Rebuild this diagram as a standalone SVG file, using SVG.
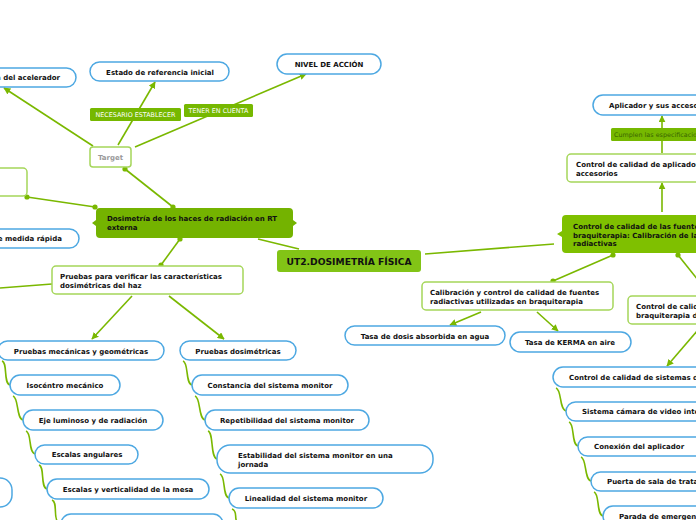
<svg xmlns="http://www.w3.org/2000/svg" width="696" height="520" viewBox="0 0 696 520">
<style>
.ln{stroke:#7ab800;stroke-width:1.6;fill:none}
.bb{fill:#fff;stroke:#4da8e2;stroke-width:1.5}
.gb{fill:#fff;stroke:#a5d65a;stroke-width:1.5}
.t{font-family:"DejaVu Sans",Verdana,sans-serif;font-weight:bold;font-size:7px;fill:#111}
.c{text-anchor:middle}
.lbl{font-family:"DejaVu Sans",Verdana,sans-serif;font-size:6.4px;fill:#fff}
.lr{fill:#76b800}
.dot{fill:#7ab800}
</style>
<defs>
<marker id="ar" viewBox="0 0 10 10" refX="9" refY="5" markerWidth="7" markerHeight="7" markerUnits="userSpaceOnUse" orient="auto">
<path d="M0,0 L10,5 L0,10 Z" fill="#7ab800"/>
</marker>
</defs>
<rect width="696" height="520" fill="#fff"/>
<g id="connectors">
<line class="ln" x1="93" y1="146" x2="4" y2="88" marker-end="url(#ar)"/>
<line class="ln" x1="118" y1="145" x2="155" y2="82" marker-end="url(#ar)"/>
<line class="ln" x1="135" y1="147" x2="306" y2="74" marker-end="url(#ar)"/>
<line class="ln" x1="125" y1="169" x2="173" y2="207"/>
<line class="ln" x1="27" y1="197" x2="95" y2="207"/>
<line class="ln" x1="180" y1="239" x2="161" y2="265"/>
<line class="ln" x1="52" y1="284" x2="0" y2="288"/>
<line class="ln" x1="258" y1="239" x2="299" y2="249"/>
<line class="ln" x1="425" y1="254" x2="554" y2="244"/>
<line class="ln" x1="132" y1="296" x2="92" y2="339" marker-end="url(#ar)"/>
<line class="ln" x1="169" y1="296" x2="224" y2="339" marker-end="url(#ar)"/>
<line class="ln" x1="662" y1="212" x2="662" y2="183" marker-end="url(#ar)"/>
<line class="ln" x1="662" y1="153" x2="662" y2="116" marker-end="url(#ar)"/>
<line class="ln" x1="613" y1="255" x2="553" y2="281"/>
<line class="ln" x1="678" y1="255" x2="698" y2="280"/>
<line class="ln" x1="481" y1="312" x2="450" y2="325" marker-end="url(#ar)"/>
<line class="ln" x1="537" y1="312" x2="558" y2="331" marker-end="url(#ar)"/>
<line class="ln" x1="698" y1="330" x2="667" y2="366" marker-end="url(#ar)"/>
<path class="ln" d="M2,361 C8,363 3,383 10,385"/>
<path class="ln" d="M13,396 C19,398 16,418 23,420"/>
<path class="ln" d="M26,431 C32,433 28,452 35,454"/>
<path class="ln" d="M39,465 C45,467 40,487 47,489"/>
<path class="ln" d="M52,500 C58,502 53,518 58,522"/>
<path class="ln" d="M183,361 C189,363 185,383 192,385"/>
<path class="ln" d="M195,396 C201,398 198,418 205,420"/>
<path class="ln" d="M208,431 C214,433 210,457 217,459"/>
<path class="ln" d="M220,474 C226,476 222,496 229,498"/>
<path class="ln" d="M232,509 C238,511 234,518 237,522"/>
<path class="ln" d="M556,388 C562,390 559,409 566,411"/>
<path class="ln" d="M569,422 C575,424 571,444 578,446"/>
<path class="ln" d="M581,457 C587,459 584,479 591,481"/>
<path class="ln" d="M594,492 C600,494 596,514 603,516"/>
<circle class="dot" cx="125" cy="169" r="2.6"/>
<circle class="dot" cx="173" cy="207" r="2.6"/>
<circle class="dot" cx="27" cy="197" r="2.6"/>
<circle class="dot" cx="95" cy="207" r="2.6"/>
<circle class="dot" cx="180" cy="239" r="2.6"/>
<circle class="dot" cx="161" cy="265" r="2.6"/>
<circle class="dot" cx="613" cy="255" r="2.6"/>
<circle class="dot" cx="553" cy="281" r="2.6"/>
<circle class="dot" cx="678" cy="255" r="2.6"/>
</g>
<g id="lbl-necesario"><rect class="lr" x="90" y="108" width="91" height="13" rx="1.5"/><text class="lbl c" x="135.5" y="117">NECESARIO ESTABLECER</text></g>
<g id="lbl-tener"><rect class="lr" x="184" y="104" width="69" height="13" rx="1.5"/><text class="lbl c" x="218.5" y="113">TENER EN CUENTA</text></g>
<g id="lbl-cumplen"><rect class="lr" x="611" y="128" width="110" height="13" rx="1.5"/><text class="lbl" x="614" y="137" style="fill:#3a6600">Cumplen las especificaciones</text></g>
<g id="n-acelerador"><rect class="bb" x="-60" y="68" width="136" height="19" rx="9.5"/><text class="t" x="60" y="80" text-anchor="end">a del acelerador</text></g>
<g id="n-estado"><rect class="bb" x="90" y="62" width="139" height="19" rx="9.5"/><text class="t c" x="160" y="74.5">Estado de referencia inicial</text></g>
<g id="n-nivel"><rect class="bb" x="277" y="54" width="104" height="20" rx="10"/><text class="t c" x="329" y="66.5">NIVEL DE ACCIÓN</text></g>
<g id="n-target"><rect class="gb" x="90" y="147" width="41" height="20" rx="3"/><text class="t c" x="110.5" y="160" style="fill:#9a9a9a">Target</text></g>
<g id="n-topleft"><rect class="gb" x="-20" y="168" width="47" height="28" rx="4"/></g>
<g id="n-medida"><rect class="bb" x="-60" y="229" width="139" height="19" rx="9.5"/><text class="t" x="62" y="241" text-anchor="end">e medida rápida</text></g>
<g id="n-dosimetria"><path d="M100,208 H289 Q293,208 293,212 V220 L297,223 L293,226 V234 Q293,238 289,238 H100 Q96,238 96,234 V226 L92,223 L96,220 V212 Q96,208 100,208 Z" fill="#74b300"/><text class="t" x="107" y="220.5">Dosimetría de los haces de radiación en RT</text><text class="t" x="107" y="230">externa</text></g>
<g id="n-ut2"><rect x="277" y="250" width="144" height="22" rx="3" fill="#82c416"/><text class="t c" x="349" y="264.8" style="font-size:9.2px">UT2.DOSIMETRÍA FÍSICA</text></g>
<g id="n-pruebas"><rect class="gb" x="52" y="266" width="191" height="28" rx="4"/><text class="t" x="60" y="278.5">Pruebas para verificar las características</text><text class="t" x="60" y="288">dosimétricas del haz</text></g>
<g id="n-fuentes"><path d="M566,215 H720 V253 H566 Q562,253 562,249 V237 L557,234 L562,231 V219 Q562,215 566,215 Z" fill="#7fc000"/><text class="t" x="573" y="229">Control de calidad de las fuentes de</text><text class="t" x="573" y="237.5">braquiterapia: Calibración de las fuentes</text><text class="t" x="573" y="246">radiactivas</text></g>
<g id="n-ctrl-aplic"><rect class="gb" x="567" y="154" width="150" height="28" rx="4"/><text class="t" x="576" y="166.5">Control de calidad de aplicadores y</text><text class="t" x="576" y="176">accesorios</text></g>
<g id="n-aplicador"><rect class="bb" x="593" y="95" width="130" height="20" rx="10"/><text class="t" x="609" y="107.5">Aplicador y sus accesorios</text></g>
<g id="n-calibracion"><rect class="gb" x="422" y="282" width="191" height="28" rx="4"/><text class="t" x="430" y="294.5">Calibración y control de calidad de fuentes</text><text class="t" x="430" y="304">radiactivas utilizadas en braquiterapia</text></g>
<g id="n-tasa-dosis"><rect class="bb" x="345" y="326" width="160" height="19" rx="9.5"/><text class="t c" x="425" y="338.5">Tasa de dosis absorbida en agua</text></g>
<g id="n-kerma"><rect class="bb" x="510" y="332" width="121" height="20" rx="10"/><text class="t c" x="570" y="345">Tasa de KERMA en aire</text></g>
<g id="n-ctrl-braqui"><rect class="gb" x="628" y="296" width="100" height="28" rx="4"/><text class="t" x="636" y="308.5">Control de calidad de</text><text class="t" x="636" y="318">braquiterapia de</text></g>
<g id="n-mecanicas"><rect class="bb" x="-2" y="341" width="166" height="19" rx="9.5"/><text class="t c" x="81" y="353.5">Pruebas mecánicas y geométricas</text></g>
<g id="n-isocentro"><rect class="bb" x="10" y="375" width="110" height="20" rx="10"/><text class="t c" x="65" y="387.5">Isocéntro mecánico</text></g>
<g id="n-eje"><rect class="bb" x="23" y="410" width="140" height="20" rx="10"/><text class="t c" x="93" y="422.5">Eje luminoso y de radiación</text></g>
<g id="n-escalas-ang"><rect class="bb" x="35" y="445" width="103" height="19" rx="9.5"/><text class="t c" x="87" y="457">Escalas angulares</text></g>
<g id="n-escalas-mesa"><rect class="bb" x="47" y="479" width="162" height="20" rx="10"/><text class="t c" x="128" y="491.5">Escalas y verticalidad de la mesa</text></g>
<g id="n-left-next"><rect class="bb" x="61" y="514" width="162" height="20" rx="10"/></g>
<g id="n-left-partial"><rect class="bb" x="-40" y="478" width="52" height="29" rx="12"/></g>
<g id="n-dosimetricas"><rect class="bb" x="180" y="341" width="116" height="19" rx="9.5"/><text class="t c" x="238" y="353.5">Pruebas dosimétricas</text></g>
<g id="n-constancia"><rect class="bb" x="192" y="375" width="156" height="20" rx="10"/><text class="t c" x="270" y="387.5">Constancia del sistema monitor</text></g>
<g id="n-repetibilidad"><rect class="bb" x="205" y="410" width="164" height="20" rx="10"/><text class="t c" x="287" y="422.5">Repetibilidad del sistema monitor</text></g>
<g id="n-estabilidad"><rect class="bb" x="217" y="445" width="216" height="28" rx="13"/><text class="t" x="238" y="457.5">Estabilidad del sistema monitor en una</text><text class="t" x="238" y="467">jornada</text></g>
<g id="n-linealidad"><rect class="bb" x="229" y="488" width="154" height="20" rx="10"/><text class="t c" x="306" y="500.5">Linealidad del sistema monitor</text></g>
<g id="n-sistemas"><rect class="bb" x="553" y="367" width="170" height="20" rx="10"/><text class="t" x="569" y="379.5">Control de calidad de sistemas de</text></g>
<g id="n-camara"><rect class="bb" x="566" y="402" width="160" height="19" rx="9.5"/><text class="t" x="582" y="414">Sistema cámara de video inte</text></g>
<g id="n-conexion"><rect class="bb" x="578" y="437" width="150" height="19" rx="9.5"/><text class="t" x="594" y="449">Conexión del aplicador</text></g>
<g id="n-puerta"><rect class="bb" x="591" y="472" width="140" height="19" rx="9.5"/><text class="t" x="607" y="484">Puerta de sala de trata</text></g>
<g id="n-parada"><rect class="bb" x="603" y="506" width="130" height="20" rx="10"/><text class="t" x="619" y="518.5">Parada de emergen</text></g>
</svg>
